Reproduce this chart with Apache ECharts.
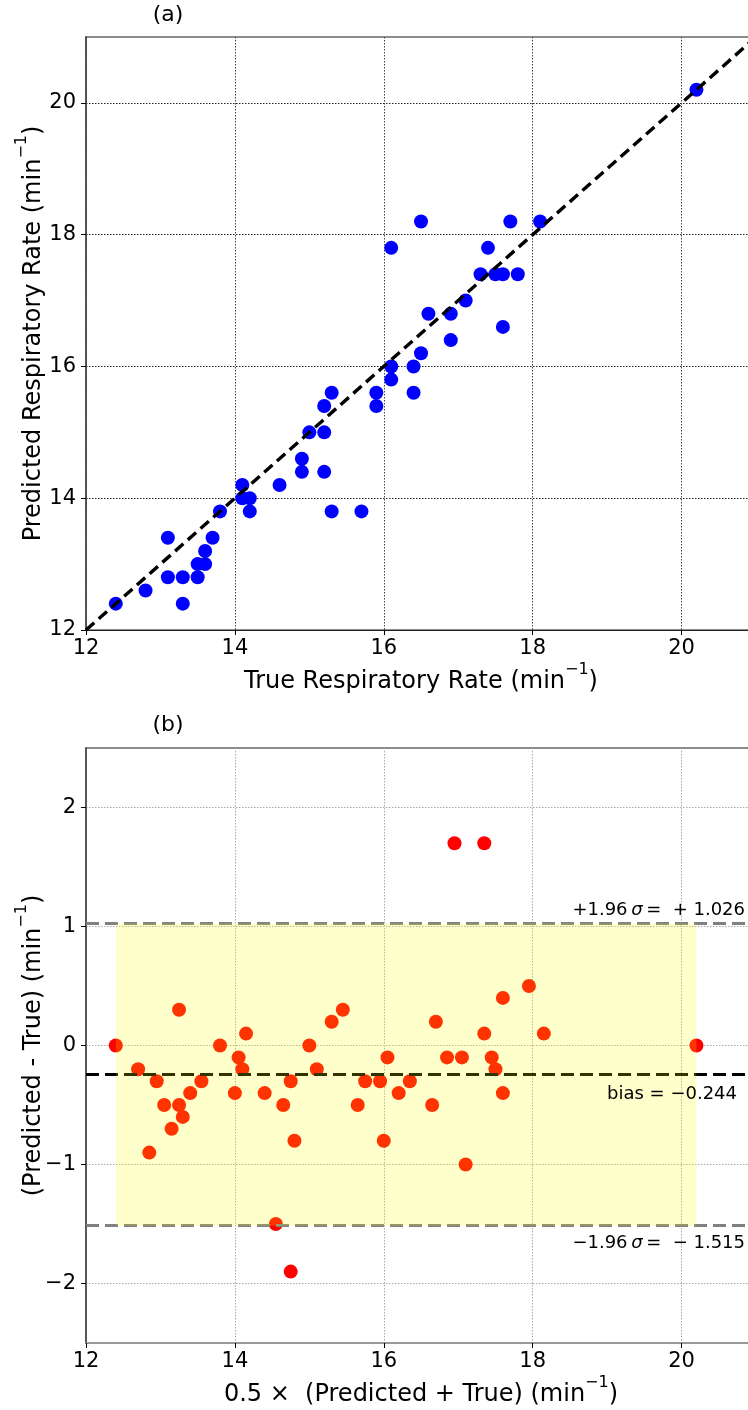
<!DOCTYPE html>
<html>
<head>
<meta charset="utf-8">
<script src="https://cdn.jsdelivr.net/npm/echarts@6/dist/echarts.min.js"></script>
<style>
  html, body { margin: 0; padding: 0; background: #ffffff; }
  #chart { width: 748px; height: 1410px; }
</style>
</head>
<body>
<div id="chart"></div>
<script>
// Panel (a): true vs. predicted respiratory rate, one entry per recording (min^-1)
const trueRate = [
  12.4, 12.8, 13.1, 13.1, 13.3, 13.3, 13.5, 13.5, 13.6, 13.6, 13.7, 13.8,
  14.1, 14.1, 14.2, 14.2, 14.6, 14.9, 14.9, 15.0, 15.2, 15.2, 15.2, 15.3,
  15.3, 15.7, 15.9, 15.9, 16.1, 16.1, 16.1, 16.4, 16.4, 16.5, 16.5, 16.6,
  16.9, 16.9, 17.1, 17.3, 17.4, 17.5, 17.6, 17.6, 17.7, 17.8, 18.1, 20.2
];
const predictedRate = [
  12.4, 12.6, 13.4, 12.8, 12.8, 12.4, 12.8, 13.0, 13.0, 13.2, 13.4, 13.8,
  14.2, 14.0, 14.0, 13.8, 14.2, 14.6, 14.4, 15.0, 15.4, 15.0, 14.4, 15.6,
  13.8, 13.8, 15.6, 15.4, 17.8, 16.0, 15.8, 16.0, 15.6, 18.2, 16.2, 16.8,
  16.8, 16.4, 17.0, 17.4, 17.8, 17.4, 17.4, 16.6, 18.2, 17.4, 18.2, 20.2
];

// Panel (b): Bland-Altman mean and difference per recording
const meanRate = [
  12.40, 12.70, 13.25, 12.95, 13.05, 12.85, 13.15, 13.25, 13.30, 13.40, 13.55, 13.80,
  14.15, 14.05, 14.10, 14.00, 14.40, 14.75, 14.65, 15.00, 15.30, 15.10, 14.80, 15.45,
  14.55, 14.75, 15.75, 15.65, 16.95, 16.05, 15.95, 16.20, 16.00, 17.35, 16.35, 16.70,
  16.85, 16.65, 17.05, 17.35, 17.60, 17.45, 17.50, 17.10, 17.95, 17.60, 18.15, 20.20
];
const diffRate = [
   0.0, -0.2,  0.3, -0.3, -0.5, -0.9, -0.7, -0.5, -0.6, -0.4, -0.3,  0.0,
   0.1, -0.1, -0.2, -0.4, -0.4, -0.3, -0.5,  0.0,  0.2, -0.2, -0.8,  0.3,
  -1.5, -1.9, -0.3, -0.5,  1.7, -0.1, -0.3, -0.4, -0.8,  1.7, -0.3,  0.2,
  -0.1, -0.5, -0.1,  0.1,  0.4, -0.1, -0.2, -1.0,  0.5, -0.4,  0.1,  0.0
];

// Agreement statistics and the span of the mean values
const bias = -0.244;
const upperLimit = 1.026;
const lowerLimit = -1.515;
const meanSpan = [12.4, 20.2];

// Tick labels
const rateTicks = [12, 14, 16, 18, 20];
const diffTicks = [-2, -1, 0, 1, 2];
const rateRange = [12, 21];
const diffRange = [-2.5, 2.5];

const FONT = 'DejaVu Sans';
const fmtSigned = v => (v < 0 ? '\u2212' + Math.abs(v) : String(v));

// Axis titles with a raised "-1" exponent
const nameRich = {
  b: { fontFamily: FONT, fontSize: 24, color: '#000', lineHeight: 32, verticalAlign: 'bottom' },
  sup: { fontFamily: FONT, fontSize: 16, color: '#000', lineHeight: 16, verticalAlign: 'top' }
};
const unitName = label => '{b|' + label + ' (min}{sup|\u22121}{b|)}';

const chart = echarts.init(document.getElementById('chart'), null, { renderer: 'canvas' });

function rateAxis(gridIndex, lineColor, lineWidth, name, gridColor) {
  return {
    type: 'value', gridIndex: gridIndex,
    min: rateRange[0], max: rateRange[1], interval: 2,
    name: name, nameLocation: 'middle', nameGap: 32, nameMoveOverlap: false,
    nameTextStyle: { fontFamily: FONT, fontSize: 24, color: '#000', rich: nameRich },
    axisLine: { show: true, onZero: false, lineStyle: { color: lineColor, width: lineWidth } },
    axisTick: { show: true, customValues: rateTicks, length: 5, lineStyle: { color: '#000', width: 1 } },
    axisLabel: { customValues: rateTicks, fontFamily: FONT, fontSize: 21, color: '#000', margin: 8,
                 formatter: v => fmtSigned(v) },
    splitLine: { show: true, lineStyle: { color: gridColor, width: 1, type: [1.5, 1.5] } }
  };
}

function valueAxis(gridIndex, range, ticks, name, gridColor) {
  return {
    type: 'value', gridIndex: gridIndex, min: range[0], max: range[1],
    name: name, nameLocation: 'middle', nameGap: 40, nameMoveOverlap: false,
    nameTextStyle: { fontFamily: FONT, fontSize: 24, color: '#000', rich: nameRich },
    axisLine: { show: true, onZero: false, lineStyle: { color: '#444', width: 1.5 } },
    axisTick: { show: true, customValues: ticks, length: 5, lineStyle: { color: '#000', width: 1 } },
    axisLabel: { customValues: ticks, fontFamily: FONT, fontSize: 21, color: '#000', margin: 10,
                 formatter: v => fmtSigned(v) },
    splitLine: { show: true, lineStyle: { color: gridColor, width: 1, type: [1.5, 1.5] } }
  };
}

const identityLine = [[rateRange[0], rateRange[0]], [rateRange[1], rateRange[1]]];

const option = {
  animation: false,
  backgroundColor: '#ffffff',
  grid: [
    { left: 86, top: 37, width: 670, height: 593, show: true, borderColor: '#8c8c8c', borderWidth: 2,
      backgroundColor: 'transparent', outerBoundsMode: 'none', containLabel: false },
    { left: 86, top: 748, width: 670, height: 595, show: true, borderColor: '#8c8c8c', borderWidth: 2,
      backgroundColor: 'transparent', outerBoundsMode: 'none', containLabel: false }
  ],
  xAxis: [
    rateAxis(0, '#222', 1, unitName('True Respiratory Rate'), '#444'),
    rateAxis(1, '#999', 2, unitName('0.5 \u00D7  (Predicted + True)'), '#aaa')
  ],
  yAxis: [
    Object.assign(valueAxis(0, rateRange, rateTicks, unitName('Predicted Respiratory Rate'), '#222'), { interval: 2 }),
    Object.assign(valueAxis(1, diffRange, diffTicks, unitName('(Predicted - True)'), '#aaa'), { interval: 1 })
  ],
  series: [
    {
      name: 'identity', type: 'line', xAxisIndex: 0, yAxisIndex: 0,
      data: identityLine, symbol: 'none', silent: true, z: 3,
      lineStyle: { color: '#000', width: 3.4, type: [11, 6] }
    },
    {
      name: 'estimates', type: 'scatter', xAxisIndex: 0, yAxisIndex: 0,
      data: trueRate.map((t, i) => [t, predictedRate[i]]),
      symbol: 'circle', symbolSize: 14, z: 2,
      itemStyle: { color: '#0000ff', opacity: 1 }
    },
    {
      name: 'differences', type: 'scatter', xAxisIndex: 1, yAxisIndex: 1,
      data: meanRate.map((m, i) => [m, diffRate[i]]),
      symbol: 'circle', symbolSize: 14, z: 2,
      itemStyle: { color: '#ff0000', opacity: 1 }
    },
    {
      name: 'limits', type: 'line', xAxisIndex: 1, yAxisIndex: 1, data: [], z: 3,
      markLine: {
        silent: true, symbol: ['none', 'none'], label: { show: false }, z: 5,
        data: [
          { yAxis: upperLimit, lineStyle: { color: '#808080', width: 3, type: [13, 6] } },
          { yAxis: bias, lineStyle: { color: '#000000', width: 3, type: [13, 6] } },
          { yAxis: lowerLimit, lineStyle: { color: '#808080', width: 3, type: [13, 6] } }
        ]
      }
    },
    {
      name: 'agreement span', type: 'line', xAxisIndex: 1, yAxisIndex: 1, data: [], z: 6,
      markArea: {
        silent: true, z: 6,
        itemStyle: { color: 'rgba(255,255,0,0.2)' },
        data: [[{ coord: [meanSpan[0], upperLimit] }, { coord: [meanSpan[1], lowerLimit] }]]
      }
    }
  ]
};

chart.setOption(option);

// Panel titles and the agreement annotations, placed from axis values
const yUpper = chart.convertToPixel({ gridIndex: 1 }, [20, upperLimit])[1];
const yBias = chart.convertToPixel({ gridIndex: 1 }, [20, bias])[1];
const yLower = chart.convertToPixel({ gridIndex: 1 }, [20, lowerLimit])[1];

const richParts = {
  n: { fontFamily: FONT, fontSize: 18, fill: '#000' },
  s: { fontFamily: FONT, fontSize: 18, fontStyle: 'italic', fill: '#000' }
};

function note(x, y, text) {
  return {
    type: 'text', x: x, y: y, z: 50, silent: true,
    style: { text: text, rich: richParts, fontFamily: FONT, fontSize: 18, fill: '#000',
             align: 'right', verticalAlign: 'middle' }
  };
}

chart.setOption({
  graphic: [
    { type: 'text', x: 168, y: 15, z: 50,
      style: { text: '(a)', fontFamily: FONT, fontSize: 22, fill: '#000', align: 'center', verticalAlign: 'middle' } },
    { type: 'text', x: 168, y: 725, z: 50,
      style: { text: '(b)', fontFamily: FONT, fontSize: 22, fill: '#000', align: 'center', verticalAlign: 'middle' } },
    note(745, yUpper - 13, '{n|+1.96\u2009}{s|\u03C3}{n|\u2009=  + 1.026}'),
    note(737, yBias + 20, '{n|bias = \u22120.244}'),
    note(745, yLower + 18, '{n|\u22121.96\u2009}{s|\u03C3}{n|\u2009=  \u2212 1.515}')
  ]
});
</script>
</body>
</html>
